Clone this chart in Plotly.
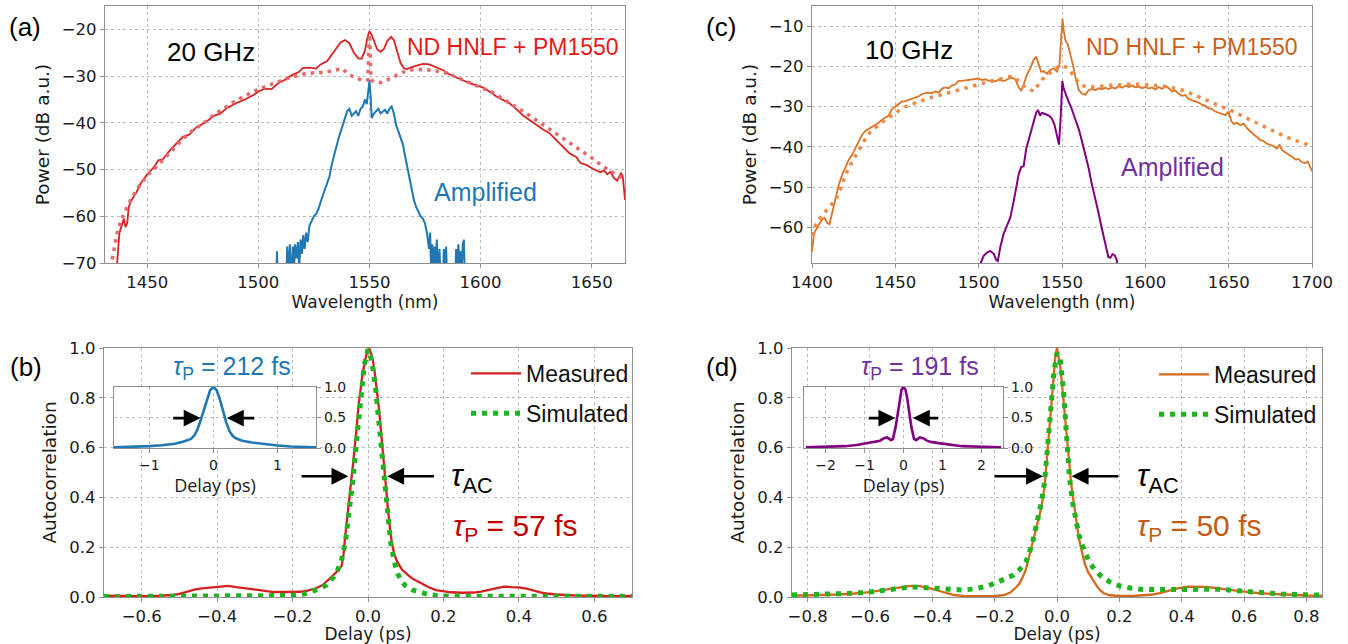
import plotly.graph_objects as go

# ---------------- data: panel (a) 20 GHz spectra ----------------
wl_a_meas = [1436.3, 1436.8, 1437.5, 1438.5, 1439.5, 1440.2, 1441, 1441.7, 1443, 1445, 1447, 1450, 1453, 1455,
             1457, 1460, 1463, 1466, 1469, 1472, 1476, 1480, 1483, 1486, 1490, 1494, 1498, 1500, 1503, 1506,
             1509, 1512, 1515, 1518, 1520, 1523, 1526, 1528, 1531, 1533, 1535, 1537, 1539, 1541, 1543, 1545,
             1546.5, 1548, 1549.2, 1550, 1551, 1552, 1553.5, 1555, 1556.5, 1558, 1559.8, 1561, 1562.5, 1564,
             1565.5, 1567, 1569, 1571, 1574, 1577, 1580, 1583, 1586, 1589, 1592, 1595, 1598, 1601, 1604, 1607,
             1610, 1613, 1616, 1619, 1622, 1625, 1628, 1631, 1634, 1637, 1640, 1643, 1645, 1647.6, 1650, 1652,
             1654, 1655.5, 1657, 1658.5, 1660, 1661.5, 1662.3, 1663.2, 1664, 1664.7, 1665]
p_a_meas = [-71, -67, -63.5, -62, -60.5, -62.3, -61.5, -58, -56.5, -55, -53, -51, -49.5, -48,
            -47.8, -46, -44.5, -43, -42.5, -41, -40, -38.5, -38, -36.8, -35.8, -35, -34, -33.3, -32.7, -32.8,
            -31.5, -30.8, -29.8, -29.2, -28.3, -28.2, -28.4, -27.5, -26.8, -25.5, -24, -22.8, -22.3, -23, -25, -26.2,
            -26.3, -24.5, -21.5, -20.4, -21.2, -22.5, -24.3, -24.8, -24.2, -22.5, -21.6, -22.3, -24.5, -27.2,
            -28.3, -28.5, -28.1, -27.8, -27.4, -27.5, -28.1, -28.7, -29.6, -30.3, -30.9, -31.5, -32, -32.4, -33.3, -34.3,
            -35.1, -35.8, -37, -38.4, -39.4, -40.5, -41.4, -42.2, -43.6, -45.2, -46.5, -47.3, -48.6, -49, -49.7, -50.2,
            -50.6, -50.2, -51, -50.5, -51.8, -52.4, -51.5, -50.8, -51.5, -54.5, -56.5]

wl_a_sim = [1433.5, 1434.5, 1435.5, 1436.5, 1438, 1440, 1442, 1445, 1448, 1450, 1453, 1456, 1458, 1462, 1466,
            1470, 1475, 1480, 1485, 1490, 1495, 1500, 1505, 1510, 1515, 1520, 1525, 1530, 1535, 1538, 1540, 1545,
            1548, 1549.3, 1549.7, 1550, 1550.3, 1550.7, 1552, 1555, 1558, 1562, 1566, 1570, 1575, 1580, 1585,
            1590, 1595, 1600, 1605, 1610, 1615, 1620, 1625, 1630, 1635, 1640, 1645, 1650, 1655, 1660, 1665]
p_a_sim = [-71, -68, -66, -63.5, -61, -59, -57, -54.5, -52.5, -51.2, -50, -48.6, -47.5, -45.5, -43.5,
           -41.8, -40.2, -38.3, -36.8, -35.2, -34, -32.8, -31.9, -31, -30.2, -29.6, -29.3, -29.2, -28.8, -28.4, -29.5, -30.6,
           -31, -30.8, -24, -21, -24, -30.8, -31.2, -31.4, -30.8, -29.8, -29, -28.6, -28.6, -28.9, -29.4,
           -30.4, -31.3, -32.4, -33.4, -34.8, -36.3, -37.8, -39.4, -41, -42.6, -44.2, -45.9, -47.5, -49.3, -50.8, -52.2]

wl_a_amp = [1508, 1508.4, 1508.8, 1512.5, 1513, 1513.5, 1514.2, 1514.8, 1515.5, 1516, 1516.5, 1517.2, 1517.8,
            1518.4, 1519, 1519.6, 1520.2, 1520.8, 1521.5, 1522.2, 1523, 1524, 1525, 1526, 1527, 1528, 1529,
            1530, 1531, 1532, 1533, 1534, 1535, 1536, 1537, 1538, 1539, 1540, 1541, 1542, 1543, 1544, 1545,
            1546, 1547, 1548, 1548.8, 1549.5, 1550, 1550.5, 1551, 1552, 1553, 1554, 1555, 1556, 1557, 1558,
            1559, 1560, 1561, 1562, 1563, 1564, 1565, 1566, 1567, 1568, 1569, 1570, 1571, 1572, 1573, 1574,
            1575, 1576, 1576.8, 1577.3, 1577.8, 1578.3, 1578.8, 1579.3, 1579.8, 1580.3, 1581, 1581.5, 1582,
            1583, 1583.5, 1584, 1584.5, 1585, 1588.5, 1589, 1589.5, 1590, 1590.5, 1591, 1591.5, 1592, 1592.5, 1593]
p_a_amp = [-75, -67.5, -75, -75, -66.5, -72, -66, -75, -66.5, -72, -66, -69, -65.5,
           -71, -65, -68, -64, -67, -63.5, -65.5, -62, -61, -60, -59.5, -58.5, -57, -55.5,
           -54.5, -53, -51.5, -49, -47, -45.5, -43.5, -42, -40.5, -39.5, -37.5, -37, -38.5, -38, -37.5, -38.5,
           -37, -36.5, -35, -36, -33, -31, -34, -39, -38, -37.5, -37, -38, -37.5, -37.2, -38,
           -37, -36.5, -38, -40.5, -42, -43, -44.5, -47, -49.5, -52, -54.5, -56.5, -58, -59, -60, -60.5,
           -61.5, -64, -67, -63.5, -72, -66, -75, -66.5, -70, -65, -75, -67, -73,
           -75, -67, -72, -66.5, -75, -75, -67, -72, -66, -70, -67.5, -72, -66, -65, -75]

# ---------------- data: panel (c) 10 GHz spectra ----------------
wl_c_meas = [1400, 1401, 1402, 1404, 1406, 1407.5, 1409, 1410.5, 1412, 1414, 1416, 1418, 1420, 1422, 1424, 1426,
             1428, 1430, 1432, 1434, 1436, 1438, 1440, 1442, 1444, 1446, 1448, 1450, 1452, 1454, 1456, 1458,
             1460, 1462, 1464, 1466, 1468, 1470, 1472, 1474, 1476, 1478, 1480, 1482, 1484, 1486, 1488, 1490,
             1492, 1494, 1496, 1498, 1500, 1502, 1504, 1506, 1508, 1510, 1512, 1514, 1516, 1518, 1520, 1522,
             1524, 1525.5, 1527, 1529, 1531, 1533, 1534.5, 1536, 1537.5, 1539, 1541, 1543, 1545, 1547, 1548.5,
             1549.5, 1550.3, 1551, 1552, 1553.5, 1555, 1556.5, 1558, 1560, 1562, 1564, 1566, 1568, 1570, 1572,
             1574, 1576, 1578, 1580, 1582, 1584, 1586, 1588, 1590, 1592, 1594, 1596, 1598, 1600, 1602, 1604,
             1606, 1608, 1610, 1612, 1614, 1616, 1618, 1620, 1622, 1624, 1626, 1628, 1630, 1632, 1634, 1636,
             1638, 1640, 1642, 1644, 1646, 1648, 1650, 1651.5, 1653, 1655, 1657, 1659, 1661, 1663, 1665, 1667,
             1669, 1671, 1673, 1675, 1677, 1679, 1680.5, 1682, 1684, 1686, 1688, 1690, 1692, 1694, 1696, 1697.5,
             1699, 1700]
p_c_meas = [-66, -62, -60.8, -59.5, -58, -57.6, -58.8, -59.2, -56.5, -52.5, -49.5, -47, -45, -43.2, -42, -40.3,
            -38.5, -37, -36, -35.5, -35, -34.6, -34, -33.2, -32.6, -32.2, -30.6, -30, -29.5, -28.7, -28.6, -28.3,
            -28, -27.6, -27.4, -26.9, -26.6, -26.5, -26.6, -26.2, -26.5, -25.5, -25.2, -25.4, -24.7, -24.5, -23.6, -23.6,
            -23.5, -23.4, -23.3, -23.1, -23, -23.4, -23.2, -23.6, -23.4, -23.7, -23.3, -23.6, -23.5, -23, -22.8, -23.2,
            -25.2, -26, -24.5, -22, -20.5, -18.3, -17.6, -19.5, -21.3, -21.2, -21.8, -20.8, -20.5, -21.3, -19.5,
            -13, -8.2, -11, -13.5, -14.5, -16.8, -19.5, -22.5, -25.8, -26.8, -27, -25.9, -25.6, -25.9, -25.4,
            -25.7, -25.3, -25.6, -25.2, -25.5, -24.9, -25.3, -24.8, -25.1, -24.7, -25.2, -25, -25.4, -25.1, -25.5, -25.2,
            -25.7, -25.1, -25.6, -24.8, -25.4, -26.2, -26, -26.8, -27.3, -27.1, -28.1, -28.4, -28.7, -29, -29.5, -29.8,
            -30.4, -30.6, -31.2, -31.5, -31.8, -32.1, -31.2, -33.5, -34.3, -34, -34.6, -34.2, -35.3, -36.2, -36.9, -37.5,
            -38.3, -38.5, -39.2, -39.5, -39.8, -40.4, -39.4, -40.8, -41.3, -41.9, -42.4, -43.1, -43, -43.8, -44, -43.6,
            -45, -46]

wl_c_sim = [1400, 1402, 1405, 1408, 1411, 1414, 1417, 1420, 1423, 1426, 1429, 1432, 1435, 1438, 1441, 1444,
            1448, 1452, 1456, 1460, 1465, 1470, 1475, 1480, 1485, 1490, 1495, 1500, 1505, 1510, 1515, 1519,
            1522, 1525, 1528, 1531, 1533, 1535, 1538, 1541, 1544, 1547, 1550, 1553, 1555, 1557, 1559, 1562,
            1566, 1570, 1575, 1580, 1585, 1590, 1595, 1600, 1605, 1610, 1615, 1620, 1625, 1630, 1635, 1640,
            1645, 1650, 1655, 1660, 1665, 1670, 1675, 1680, 1685, 1690, 1695, 1700]
p_c_sim = [-62, -59.5, -57.5, -56, -54.5, -53.2, -50.5, -47, -44.5, -42.3, -40.2, -38, -36.3, -35.2, -34.2, -33.3,
           -32.1, -31, -30, -29.3, -28.6, -27.9, -27.3, -26.8, -26.1, -25.5, -24.9, -24.3, -23.9, -23.5, -23, -22.5,
           -22.8, -24, -25.3, -25.8, -26.2, -25, -23.3, -22.2, -21.2, -20.3, -19.8, -20.3, -21.2, -22.3, -23.5, -24.7,
           -25.2, -25, -24.8, -24.6, -24.5, -24.4, -24.4, -24.5, -24.6, -24.9, -25.2, -25.6, -26.3, -27.2, -28, -28.9,
           -29.8, -30.6, -31.6, -32.7, -33.7, -34.8, -35.8, -36.8, -37.6, -38.4, -39.1, -39.7]

wl_c_amp = [1500, 1501.5, 1503, 1505, 1507, 1509, 1510.5, 1511.5, 1513, 1515, 1517, 1519, 1521, 1522.5, 1524,
            1525.5, 1527, 1528.5, 1530, 1531.5, 1533, 1534.5, 1535.6, 1536.8, 1538, 1539.5, 1541, 1542.5, 1544,
            1545.5, 1547, 1548.2, 1549.3, 1550.2, 1551, 1552.5, 1554, 1555.5, 1557, 1558.5, 1560, 1561.5, 1563,
            1564.5, 1566, 1567.5, 1569, 1570.5, 1572, 1573.5, 1575, 1576.5, 1577.8, 1579, 1580.3, 1581.5, 1582.8, 1583.8]
p_c_amp = [-72, -68.5, -67, -66.2, -65.8, -66.5, -68, -68.3, -64.8, -61.5, -59.5, -57.5, -53.5, -50, -46.8,
           -45, -44.8, -40.5, -38.3, -36, -33.8, -31.5, -30.8, -32.2, -31.5, -31.7, -32, -32.3, -33,
           -34.5, -37.5, -39.4, -32, -23.6, -25.5, -27.4, -28.8, -30.2, -32, -33.5, -35.5, -37.8, -40.2,
           -42.5, -45.3, -48.5, -51, -53.5, -56.5, -59.5, -62.5, -65, -67.3, -67.5, -66.6, -66.8, -68, -72]

# ---------------- data: panel (b) autocorrelation, 20 GHz ----------------
t_b_meas = [-0.7, -0.65, -0.6, -0.55, -0.52, -0.5, -0.48, -0.46, -0.44, -0.42, -0.4, -0.38, -0.37, -0.35, -0.33,
            -0.31, -0.29, -0.27, -0.25, -0.22, -0.2, -0.18, -0.16, -0.14, -0.12, -0.1, -0.09, -0.08, -0.07, -0.065,
            -0.06, -0.055, -0.05, -0.045, -0.04, -0.035, -0.03, -0.025, -0.02, -0.015, -0.01, -0.005, 0, 0.003,
            0.008, 0.013, 0.018, 0.023, 0.028, 0.033, 0.038, 0.043, 0.048, 0.053, 0.058, 0.063, 0.07, 0.078, 0.09,
            0.1, 0.11, 0.12, 0.14, 0.16, 0.18, 0.2, 0.22, 0.25, 0.28, 0.3, 0.32, 0.34, 0.36, 0.38, 0.4, 0.42, 0.44,
            0.46, 0.48, 0.5, 0.55, 0.6, 0.65, 0.7]
ac_b_meas = [0.005, 0.003, 0.003, 0.005, 0.008, 0.013, 0.022, 0.03, 0.035, 0.038, 0.041, 0.043, 0.045, 0.04, 0.036,
             0.03, 0.025, 0.022, 0.02, 0.02, 0.02, 0.021, 0.026, 0.034, 0.048, 0.075, 0.09, 0.105, 0.125, 0.17,
             0.25, 0.33, 0.4, 0.46, 0.53, 0.6, 0.68, 0.77, 0.84, 0.89, 0.93, 0.97, 0.99, 1.0,
             0.98, 0.95, 0.9, 0.84, 0.77, 0.69, 0.6, 0.52, 0.43, 0.35, 0.28, 0.22, 0.17, 0.14, 0.11,
             0.095, 0.083, 0.072, 0.055, 0.04, 0.028, 0.022, 0.019, 0.017, 0.018, 0.022, 0.028, 0.035, 0.042, 0.04, 0.039, 0.034, 0.025,
             0.018, 0.013, 0.01, 0.006, 0.004, 0.003, 0.004]

t_b_sim = [-0.7, -0.6, -0.5, -0.4, -0.3, -0.25, -0.2, -0.17, -0.15, -0.13, -0.11, -0.1, -0.09, -0.08, -0.07, -0.06,
           -0.05, -0.04, -0.03, -0.02, -0.01, 0, 0.01, 0.02, 0.03, 0.04, 0.05, 0.06, 0.07, 0.08, 0.09, 0.1, 0.12,
           0.14, 0.16, 0.18, 0.2, 0.3, 0.4, 0.5, 0.6, 0.7]
ac_b_sim = [0.002, 0.002, 0.002, 0.002, 0.002, 0.003, 0.006, 0.012, 0.022, 0.032, 0.048, 0.062, 0.082, 0.11, 0.15, 0.22,
            0.33, 0.47, 0.63, 0.8, 0.93, 0.995, 0.95, 0.84, 0.68, 0.5, 0.34, 0.22, 0.14, 0.09, 0.06, 0.045, 0.027,
            0.016, 0.01, 0.006, 0.004, 0.003, 0.003, 0.003, 0.003, 0.003]

t_b_inset = [-1.55, -1.2, -1.0, -0.8, -0.6, -0.45, -0.35, -0.3, -0.25, -0.2, -0.15, -0.1, -0.05, 0, 0.05, 0.1,
             0.15, 0.2, 0.25, 0.3, 0.35, 0.45, 0.6, 0.8, 1.0, 1.2, 1.6]
ac_b_inset = [0.01, 0.02, 0.03, 0.045, 0.07, 0.11, 0.15, 0.2, 0.3, 0.45, 0.62, 0.8, 0.95, 1.0, 0.95, 0.8,
              0.6, 0.42, 0.28, 0.2, 0.16, 0.12, 0.09, 0.06, 0.04, 0.025, 0.01]

# ---------------- data: panel (d) autocorrelation, 10 GHz ----------------
t_d_meas = [-0.85, -0.8, -0.75, -0.7, -0.65, -0.6, -0.55, -0.5, -0.47, -0.44, -0.42, -0.4, -0.38, -0.35, -0.33,
            -0.3, -0.25, -0.2, -0.17, -0.15, -0.13, -0.12, -0.11, -0.1, -0.09, -0.08, -0.07, -0.06, -0.05, -0.04,
            -0.035, -0.03, -0.025, -0.02, -0.015, -0.01, -0.005, 0, 0.005, 0.01, 0.015, 0.02, 0.025, 0.03, 0.035,
            0.04, 0.045, 0.05, 0.055, 0.06, 0.065, 0.07, 0.08, 0.09, 0.1, 0.11, 0.12, 0.13, 0.14, 0.15, 0.17, 0.2,
            0.25, 0.3, 0.33, 0.36, 0.39, 0.42, 0.45, 0.48, 0.51, 0.55, 0.6, 0.65, 0.7, 0.75, 0.8, 0.85]
ac_d_meas = [0.005, 0.006, 0.008, 0.01, 0.014, 0.02, 0.03, 0.04, 0.045, 0.044, 0.04, 0.033, 0.025, 0.014, 0.008,
             0.004, 0.002, 0.003, 0.008, 0.018, 0.04, 0.055, 0.08, 0.11, 0.16, 0.21, 0.26, 0.31, 0.36, 0.44,
             0.52, 0.6, 0.68, 0.76, 0.84, 0.92, 0.97, 1.0, 0.97, 0.93, 0.87, 0.8, 0.73, 0.65, 0.58,
             0.52, 0.46, 0.41, 0.37, 0.32, 0.28, 0.24, 0.18, 0.13, 0.1, 0.08, 0.058, 0.04, 0.025, 0.015, 0.007, 0.004,
             0.005, 0.009, 0.016, 0.027, 0.036, 0.042, 0.043, 0.041, 0.036, 0.029, 0.022, 0.015, 0.011, 0.008, 0.006, 0.005]

t_d_sim = [-0.85, -0.75, -0.7, -0.65, -0.6, -0.55, -0.5, -0.47, -0.43, -0.4, -0.35, -0.3, -0.26, -0.22, -0.19,
           -0.16, -0.14, -0.12, -0.1, -0.08, -0.06, -0.05, -0.04, -0.03, -0.02, -0.01, 0, 0.01, 0.02, 0.03, 0.04,
           0.05, 0.06, 0.07, 0.08, 0.1, 0.12, 0.14, 0.17, 0.2, 0.24, 0.28, 0.33, 0.38, 0.43, 0.47, 0.52, 0.58,
           0.65, 0.72, 0.8, 0.85]
ac_d_sim = [0.008, 0.01, 0.011, 0.015, 0.02, 0.028, 0.036, 0.04, 0.038, 0.035, 0.03, 0.028, 0.033, 0.045, 0.06,
            0.075, 0.088, 0.11, 0.14, 0.21, 0.31, 0.38, 0.46, 0.6, 0.76, 0.9, 0.98, 0.96, 0.84, 0.65, 0.48,
            0.38, 0.3, 0.25, 0.21, 0.15, 0.11, 0.085, 0.06, 0.045, 0.035, 0.03, 0.03, 0.031, 0.034, 0.034, 0.031, 0.025,
            0.018, 0.012, 0.009, 0.008]

t_d_inset = [-2.5, -2.0, -1.5, -1.2, -0.9, -0.7, -0.6, -0.5, -0.42, -0.32, -0.27, -0.2, -0.15, -0.1, -0.05, 0,
             0.05, 0.1, 0.15, 0.2, 0.27, 0.32, 0.42, 0.5, 0.6, 0.7, 0.9, 1.2, 1.5, 2.0, 2.5]
ac_d_inset = [0.01, 0.02, 0.03, 0.05, 0.08, 0.1, 0.12, 0.16, 0.175, 0.13, 0.15, 0.35, 0.58, 0.8, 0.96, 1.0,
              0.96, 0.8, 0.58, 0.35, 0.15, 0.13, 0.175, 0.16, 0.12, 0.1, 0.08, 0.05, 0.03, 0.02, 0.01]

# tick values
ticks_a_x = [1450, 1500, 1550, 1600, 1650]
ticks_a_y = [-70, -60, -50, -40, -30, -20]
ticks_c_x = [1400, 1450, 1500, 1550, 1600, 1650, 1700]
ticks_c_y = [-60, -50, -40, -30, -20, -10]
ticks_b_x = [-0.6, -0.4, -0.2, 0.0, 0.2, 0.4, 0.6]
ticks_d_x = [-0.8, -0.6, -0.4, -0.2, 0.0, 0.2, 0.4, 0.6, 0.8]
ticks_ac_y = [0.0, 0.2, 0.4, 0.6, 0.8, 1.0]
ticks_b_inset_x = [-1, 0, 1]
ticks_d_inset_x = [-2, -1, 0, 1, 2]
ticks_inset_y = [0.0, 0.5, 1.0]

# ---------------- figure ----------------
W, H = 1348, 644
def fx(px): return px / W
def fy(py): return 1 - py / H

RED = "#d92323"; RED_DOT = "#e46a6a"; BLUE = "#1f77b4"
ORANGE = "#dd7325"; ORANGE_DOT = "#ef8a45"; PURPLE = "#800080"
GREEN = "#1fb31f"; RED_B = "#d42020"; ORANGE_D = "#d2691e"

fig = go.Figure()
# (a)
fig.add_trace(go.Scatter(x=wl_a_meas, y=p_a_meas, mode="lines", line=dict(color=RED, width=1.8),
                         xaxis="x", yaxis="y", showlegend=False))
fig.add_trace(go.Scatter(x=wl_a_sim, y=p_a_sim, mode="lines", line=dict(color=RED_DOT, width=3.5, dash="3.5px,5px"),
                         xaxis="x", yaxis="y", showlegend=False))
fig.add_trace(go.Scatter(x=wl_a_amp, y=p_a_amp, mode="lines", line=dict(color=BLUE, width=2),
                         xaxis="x", yaxis="y", showlegend=False))
# (c)
fig.add_trace(go.Scatter(x=wl_c_meas, y=p_c_meas, mode="lines", line=dict(color=ORANGE, width=1.8),
                         xaxis="x2", yaxis="y2", showlegend=False))
fig.add_trace(go.Scatter(x=wl_c_sim, y=p_c_sim, mode="lines", line=dict(color=ORANGE_DOT, width=3.5, dash="3.5px,5.5px"),
                         xaxis="x2", yaxis="y2", showlegend=False))
fig.add_trace(go.Scatter(x=wl_c_amp, y=p_c_amp, mode="lines", line=dict(color=PURPLE, width=2),
                         xaxis="x2", yaxis="y2", showlegend=False))
# (b)
fig.add_trace(go.Scatter(x=t_b_meas, y=ac_b_meas, mode="lines", name="Measured", line=dict(color=RED_B, width=2.3),
                         xaxis="x3", yaxis="y3", legend="legend", legendgroup="m"))
fig.add_trace(go.Scatter(x=t_b_sim, y=ac_b_sim, mode="lines", name="Simulated",
                         line=dict(color=GREEN, width=5, dash="5px,6px"),
                         xaxis="x3", yaxis="y3", legend="legend", legendgroup="s"))
# (d)
fig.add_trace(go.Scatter(x=t_d_meas, y=ac_d_meas, mode="lines", name="Measured", line=dict(color=ORANGE_D, width=2.3),
                         xaxis="x4", yaxis="y4", legend="legend2", legendgroup="m"))
fig.add_trace(go.Scatter(x=t_d_sim, y=ac_d_sim, mode="lines", name="Simulated",
                         line=dict(color=GREEN, width=5, dash="5px,6px"),
                         xaxis="x4", yaxis="y4", legend="legend2", legendgroup="s"))
# insets
fig.add_trace(go.Scatter(x=t_b_inset, y=ac_b_inset, mode="lines", line=dict(color=BLUE, width=2.6),
                         xaxis="x5", yaxis="y5", showlegend=False))
fig.add_trace(go.Scatter(x=t_d_inset, y=ac_d_inset, mode="lines", line=dict(color=PURPLE, width=2.6),
                         xaxis="x6", yaxis="y6", showlegend=False))

AXC = "#8f8f8f"
TICKFONT = dict(family="DejaVu Sans", size=16.5, color="#1a1a1a")
TITLEFONT = dict(family="DejaVu Sans", size=17, color="#1a1a1a")
YTITLEFONT = dict(family="DejaVu Sans", size=18.5, color="#1a1a1a")

def axis(dom, rng, tickvals, anchor, title=None, fmt=None, standoff=6, side=None, tickfont=TICKFONT,
         grid=True, tfont=TITLEFONT):
    d = dict(domain=dom, range=rng, tickmode="array", tickvals=tickvals, anchor=anchor,
             showline=True, linecolor=AXC, linewidth=1.2, mirror=True,
             ticks="outside", ticklen=4, tickwidth=1, tickcolor=AXC,
             showgrid=grid, gridcolor="#bdbdbd", gridwidth=0.8, griddash="dot",
             zeroline=False, tickfont=tickfont, automargin=False)
    if fmt: d["tickformat"] = fmt
    if side: d["side"] = side
    if title:
        d["title"] = dict(text=title, font=tfont, standoff=standoff)
    return d

layout = dict(width=W, height=H, margin=dict(l=0, r=0, t=0, b=0),
              paper_bgcolor="white", plot_bgcolor="white")
layout["xaxis"] = axis([fx(105), fx(625)], [1431, 1665], ticks_a_x, "y", "Wavelength (nm)", standoff=4)
layout["yaxis"] = axis([fy(263), fy(6)], [-70, -15], ticks_a_y, "x", "Power (dB a.u.)", standoff=7, tfont=YTITLEFONT)
layout["xaxis2"] = axis([fx(812), fx(1312)], [1400, 1700], ticks_c_x, "y2", "Wavelength (nm)", standoff=4)
layout["yaxis2"] = axis([fy(263), fy(6)], [-68.8, -5], ticks_c_y, "x2", "Power (dB a.u.)", standoff=7, tfont=YTITLEFONT)
layout["xaxis3"] = axis([fx(104), fx(632)], [-0.7, 0.7], ticks_b_x, "y3", "Delay (ps)", fmt=".1f", standoff=4)
layout["yaxis3"] = axis([fy(597), fy(348)], [0, 1], ticks_ac_y, "x3", "Autocorrelation", fmt=".1f", standoff=7, tfont=YTITLEFONT)
layout["xaxis4"] = axis([fx(792), fx(1322)], [-0.85, 0.85], ticks_d_x, "y4", "Delay (ps)", fmt=".1f", standoff=4)
layout["yaxis4"] = axis([fy(597), fy(348)], [0, 1], ticks_ac_y, "x4", "Autocorrelation", fmt=".1f", standoff=7, tfont=YTITLEFONT)

INSET_TICK = dict(family="DejaVu Sans", size=14, color="#1a1a1a")
layout["xaxis5"] = axis([fx(114), fx(316)], [-1.55, 1.6], ticks_b_inset_x, "y5", None, tickfont=INSET_TICK)
layout["yaxis5"] = axis([fy(448), fy(387)], [0, 1], ticks_inset_y, "x5", None, fmt=".1f", side="right", tickfont=INSET_TICK)
layout["xaxis6"] = axis([fx(804), fx(1003)], [-2.55, 2.55], ticks_d_inset_x, "y6", None, tickfont=INSET_TICK)
layout["yaxis6"] = axis([fy(448), fy(387)], [0, 1], ticks_inset_y, "x6", None, fmt=".1f", side="right", tickfont=INSET_TICK)
for k in ("xaxis5", "xaxis6"):
    layout[k]["title"] = dict(text="Delay (ps)", font=dict(family="Open Sans", size=18, color="#1a1a1a"), standoff=2)

LEGFONT = dict(family="Liberation Sans", size=23, color="#111111")
layout["legend"] = dict(x=fx(466), y=fy(352), xanchor="left", yanchor="top", bgcolor="rgba(0,0,0,0)",
                        font=LEGFONT, tracegroupgap=7, itemwidth=50)
layout["legend2"] = dict(x=fx(1154), y=fy(353), xanchor="left", yanchor="top", bgcolor="rgba(0,0,0,0)",
                         font=LEGFONT, tracegroupgap=7, itemwidth=50)

# white background behind insets
layout["shapes"] = [
    dict(type="rect", xref="x5", yref="y5", x0=-1.55, x1=1.6, y0=0, y1=1, fillcolor="white", line=dict(width=0), layer="below"),
    dict(type="rect", xref="x6", yref="y6", x0=-2.55, x1=2.55, y0=0, y1=1, fillcolor="white", line=dict(width=0), layer="below"),
]

TXT = "Liberation Sans"
def label(text, px, py, size, color="black", family=TXT):
    return dict(text=text, x=fx(px), y=fy(py), xref="paper", yref="paper", xanchor="center", yanchor="middle",
                showarrow=False, font=dict(family=family, size=size, color=color))

def arrow(xr, yr, head, tail, yv):
    return dict(x=head, y=yv, ax=tail, ay=yv, xref=xr, yref=yr, axref=xr, ayref=yr, text="",
                showarrow=True, arrowhead=2, arrowsize=1.3, arrowwidth=2.6, arrowcolor="black")

ann = [
    label("(a)", 25, 27, 26), label("(c)", 721, 27, 26), label("(b)", 26, 367, 26), label("(d)", 722, 367, 26),
    label("20 GHz", 211, 52, 26), label("10 GHz", 909, 50, 26),
    label("ND HNLF + PM1550", 513, 47, 23, "#e41a1a"), label("ND HNLF + PM1550", 1192, 47, 23, "#c8601c"),
    label("Amplified", 485, 192, 25, BLUE), label("Amplified", 1172, 167, 25, "#7030a0"),
    label("<i>τ</i><sub>P</sub> = 212 fs", 232, 368, 25, BLUE),
    label("<i>τ</i><sub>P</sub> = 191 fs", 920, 368, 25, "#7030a0"),
    label("<i>τ</i><sub>AC</sub>", 472, 478, 31),
    label("<i>τ</i><sub>AC</sub>", 1158, 478, 31),
    label("<i>τ</i><sub>P</sub> = 57 fs", 515, 527, 30, "#c00000"),
    label("<i>τ</i><sub>P</sub> = 50 fs", 1199, 527, 30, "#c55a11"),
    arrow("x3", "y3", -0.052, -0.18, 0.485), arrow("x3", "y3", 0.051, 0.179, 0.485),
    arrow("x4", "y4", -0.045, -0.205, 0.485), arrow("x4", "y4", 0.047, 0.202, 0.485),
    arrow("x5", "y5", -0.2, -0.65, 0.49), arrow("x5", "y5", 0.21, 0.66, 0.49),
    arrow("x6", "y6", -0.21, -0.93, 0.49), arrow("x6", "y6", 0.24, 0.93, 0.49),
]
layout["annotations"] = ann
fig.update_layout(**layout)
fig.write_html("out.html", config={"displayModeBar": False},
               post_script="document.documentElement.style.margin='0';document.body.style.margin='0';"
                           "document.body.style.overflow='hidden';")
